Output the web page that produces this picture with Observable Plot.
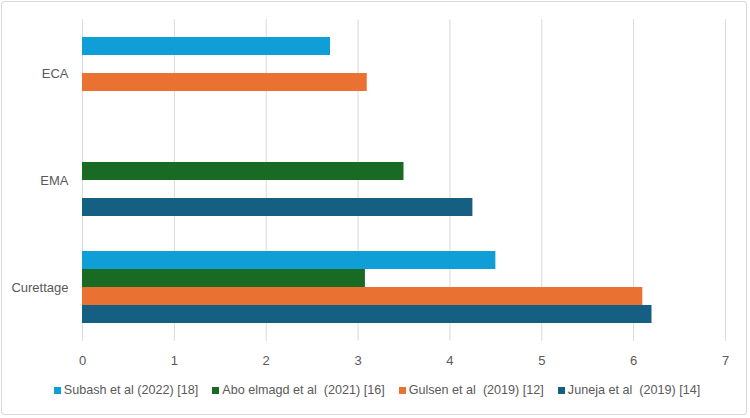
<!DOCTYPE html>
<html>
<head>
<meta charset="utf-8">
<script src="https://cdn.jsdelivr.net/npm/d3@7"></script>
<script src="https://cdn.jsdelivr.net/npm/@observablehq/plot@0.6"></script>
<style>
  html, body { margin: 0; padding: 0; background: #fff; }
  #wrap { position: relative; width: 750px; height: 418px; overflow: hidden; font-family: "Liberation Sans", Arial, sans-serif; color: #595959; }
  #frame { position: absolute; left: 1px; top: 1px; width: 744px; height: 412px; border: 1px solid #d9d9d9; border-radius: 3px; pointer-events: none; }
  #chart { position: absolute; left: 0; top: 0; }
  #legend { position: absolute; left: 2px; top: 382px; width: 750px; height: 16px; display: flex; justify-content: center; align-items: center; font-size: 12.6px; line-height: 16px; white-space: pre; }
  #legend .item { display: flex; align-items: center; margin: 0 7px; }
  #legend .sw { width: 7px; height: 7px; margin-right: 3px; }
</style>
</head>
<body>
<div id="wrap">
  <div id="chart"></div>
  <div id="legend"></div>
  <div id="frame"></div>
</div>
<script>
// Treatment categories, top to bottom
const categories = ["ECA", "EMA", "Curettage"];

// Studies (legend order, also the bar order inside each group)
const series = [
  "Subash et al (2022) [18]",
  "Abo elmagd et al  (2021) [16]",
  "Gulsen et al  (2019) [12]",
  "Juneja et al  (2019) [14]"
];
const colors = ["#0F9ED5", "#196B24", "#E97132", "#156082"];

// Values per category (ECA, EMA, Curettage); null = not reported
const subash    = [2.7,  null, 4.5];
const aboElmagd = [null, 3.5,  3.08];
const gulsen    = [3.1,  null, 6.1];
const juneja    = [null, 4.25, 6.2];

const xTicks = [0, 1, 2, 3, 4, 5, 6, 7];

// Long-format rows for Plot
const valuesBySeries = [subash, aboElmagd, gulsen, juneja];
const rows = [];
series.forEach((s, i) => {
  categories.forEach((c, j) => {
    const v = valuesBySeries[i][j];
    if (v != null) rows.push({category: c, series: s, value: v});
  });
});

const chart = Plot.plot({
  width: 750,
  height: 370,
  marginLeft: 82,
  marginRight: 25,
  marginTop: 18,
  marginBottom: 29,
  style: {fontFamily: "'Liberation Sans', Arial, sans-serif", fontSize: "13px", color: "#595959", background: "transparent"},
  x: {domain: [0, 7], ticks: xTicks, tickFormat: "d", tickSize: 0, tickPadding: 32, label: null},
  y: {domain: series, padding: 0, axis: null},
  fy: {domain: categories, paddingInner: 0.33, paddingOuter: 0.165, axis: "left", tickSize: 0, tickPadding: 14, label: null},
  color: {domain: series, range: colors},
  marks: [
    // vertical gridlines spanning the whole plot area, bridging the gaps between groups
    Plot.ruleX(xTicks, {stroke: "#d9d9d9", strokeWidth: 1, insetTop: -17.8, insetBottom: -17.8}),
    Plot.barX(rows, {x: "value", y: "series", fy: "category", fill: "series"})
  ]
});
document.getElementById("chart").appendChild(chart);

// Legend below the chart
const legend = d3.select("#legend");
series.forEach((s, i) => {
  const item = legend.append("div").attr("class", "item");
  item.append("div").attr("class", "sw").style("background", colors[i]);
  item.append("span").text(s);
});
</script>
</body>
</html>
